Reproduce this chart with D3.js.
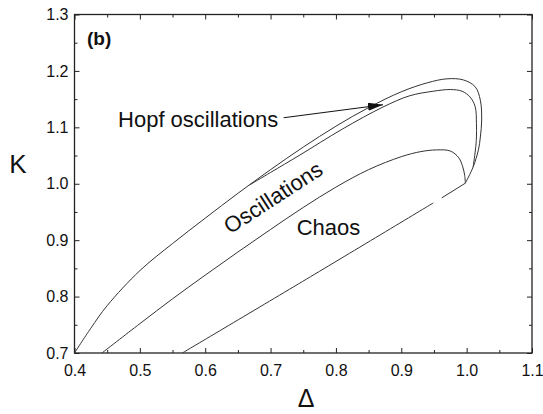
<!DOCTYPE html>
<html>
<head>
<meta charset="UTF-8">
<script src="https://cdn.jsdelivr.net/npm/d3@7"></script>
<style>
body{
  margin:0;
  background-color:#fff;
}
text{
  font-family:"Liberation Sans", Arial, sans-serif;
  fill:#111;
}
</style>
</head>
<body>
<script>
// phase diagram, panel (b): K against Delta

// outer Hopf boundary, from bottom left round the top to the cusp
var hopfOuter = [[0.400,0.700],[0.425,0.744],[0.450,0.784],[0.500,0.846],[0.550,0.894],
  [0.600,0.939],[0.650,0.983],[0.700,1.025],[0.750,1.065],[0.800,1.102],[0.850,1.135],
  [0.900,1.163],[0.940,1.179],[0.970,1.186],[0.995,1.184],
  [1.013,1.172],[1.021,1.148],[1.023,1.113],[1.021,1.083],[1.018,1.060],[1.010,1.030],[0.998,1.001]]

// inner Hopf boundary, splits off the outer one
var hopfInner = [[0.668,0.998],[0.700,1.020],[0.745,1.051],[0.810,1.097],[0.872,1.136],
  [0.913,1.156],[0.949,1.164],[0.975,1.167],[0.993,1.164],[1.005,1.154],[1.013,1.137],
  [1.015,1.107],[1.015,1.083],[1.014,1.066],[1.010,1.030]]

// oscillations / chaos boundary
var chaosUpper = [[0.442,0.700],[0.500,0.752],[0.550,0.796],[0.600,0.838],[0.650,0.879],
  [0.700,0.919],[0.750,0.958],[0.800,0.994],[0.850,1.025],[0.900,1.048],[0.930,1.057],
  [0.954,1.060],[0.975,1.058],[0.988,1.046],[0.994,1.030],[0.997,1.015],[0.998,1.001]]

// lower chaos line, with its small gap near the cusp
var chaosLower = [[0.565,0.700],[0.755,0.831],[0.949,0.966]]
var chaosLowerEnd = [[0.962,0.975],[0.998,1.001]]

var xMajor = [0.4,0.5,0.6,0.7,0.8,0.9,1.0,1.1]
var xMinor = [0.45,0.55,0.65,0.75,0.85,0.95,1.05]
var yMajor = [0.7,0.8,0.9,1.0,1.1,1.2,1.3]
var yMinor = [0.75,0.85,0.95,1.05,1.15,1.25]

var labels = [
  {text:"Hopf oscillations", x:0.4666, y:1.101, rot:0},
  {text:"Oscillations", x:0.638, y:0.910, rot:-33},
  {text:"Chaos", x:0.740, y:0.909, rot:0}
]
var arrowFrom = [0.720,1.117]
var arrowTo = [0.872,1.140]

var width = 543
var height = 414
var pl = 74.5, pr = 532, pt = 14.5, pb = 353

var x = d3.scaleLinear().domain([0.4,1.1]).range([pl,pr])
var y = d3.scaleLinear().domain([0.7,1.3]).range([pb,pt])

var svg = d3.select('body')
    .append('svg')
    .attr('width', width)
    .attr('height', height)

var defs = svg.append("defs")
defs.append("marker")
    .attr("id","head")
    .attr("viewBox","0 0 15 8")
    .attr("refX",15)
    .attr("refY",4)
    .attr("markerWidth",15)
    .attr("markerHeight",8)
    .attr("markerUnits","userSpaceOnUse")
    .attr("orient","auto")
  .append("path")
    .attr("d","M0,0 L15,4 L0,8 Z")
    .attr("fill","#111")

// ticks, inward on all four sides
function ticks(axis, vals, size, tx, ty, fmt, pad){
  var g = svg.append("g")
    .attr("transform","translate(" + tx + "," + ty + ")")
    .call(axis.tickValues(vals).tickSize(-size).tickSizeOuter(0).tickPadding(pad || 6)
      .tickFormat(fmt ? fmt : ""))
  g.select(".domain").remove()
  g.selectAll("line").attr("stroke","#222")
  g.selectAll("text").attr("font-size",16).attr("fill","#111")
    .style("font-family","'Liberation Sans', Arial, sans-serif")
  return g
}
var f1 = d3.format(".1f")
ticks(d3.axisBottom(x), xMajor, 5, 0, pb, f1, 12)
ticks(d3.axisBottom(x), xMinor, 3, 0, pb)
ticks(d3.axisTop(x), xMajor, 5, 0, pt)
ticks(d3.axisTop(x), xMinor, 3, 0, pt)
ticks(d3.axisLeft(y), yMajor, 5, pl, 0, f1, 6)
ticks(d3.axisLeft(y), yMinor, 3, pl, 0)
ticks(d3.axisRight(y), yMajor, 5, pr, 0)
ticks(d3.axisRight(y), yMinor, 3, pr, 0)

svg.append("rect")
    .attr("x",pl)
    .attr("y",pt)
    .attr("width",pr-pl)
    .attr("height",pb-pt)
    .attr("fill","none")
    .attr("stroke","#222")
    .attr("stroke-width",1.3)

var line = d3.line()
    .x(d => x(d[0]))
    .y(d => y(d[1]))
    .curve(d3.curveCatmullRom.alpha(0.5))

svg.selectAll(".curve")
  .data([hopfOuter, hopfInner, chaosUpper, chaosLower, chaosLowerEnd])
  .enter().append("path")
    .attr("class","curve")
    .attr("d", line)
    .attr("fill","none")
    .attr("stroke","#333")
    .attr("stroke-width",1)

svg.append("line")
    .attr("x1",x(arrowFrom[0]))
    .attr("y1",y(arrowFrom[1]))
    .attr("x2",x(arrowTo[0]))
    .attr("y2",y(arrowTo[1]))
    .attr("stroke","#111")
    .attr("stroke-width",1)
    .attr("marker-end","url(#head)")

labels.forEach(function(l){
  svg.append("text")
    .attr("transform","translate(" + x(l.x) + "," + y(l.y) + ") rotate(" + l.rot + ")")
    .attr("font-size",22)
    .attr("text-anchor","start")
    .text(l.text)
})

svg.append("text")
    .attr("x",87)
    .attr("y",45)
    .attr("font-size",19)
    .attr("font-weight","bold")
    .text("(b)")

svg.append("text")
    .attr("x",18)
    .attr("y",173)
    .attr("font-size",26)
    .attr("text-anchor","middle")
    .text("K")

svg.append("text")
    .attr("x",306)
    .attr("y",407)
    .attr("font-size",25)
    .attr("text-anchor","middle")
    .text("Δ")
</script>
</body>
</html>
